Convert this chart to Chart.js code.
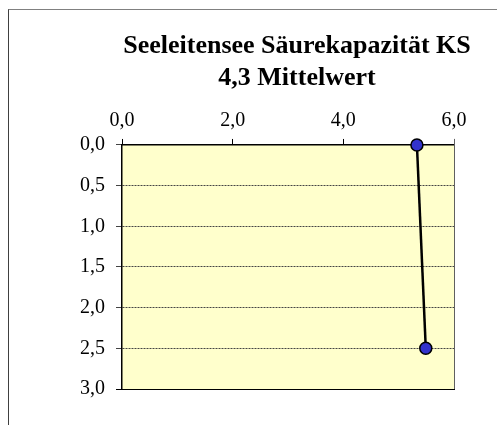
<!DOCTYPE html>
<html>
<head>
<meta charset="utf-8">
<script src="https://cdn.jsdelivr.net/npm/chart.js@4/dist/chart.umd.min.js"></script>
<style>
  html,body{margin:0;padding:0;background:#fff;}
  #wrap{position:relative;width:497px;height:425px;}
  #frame{position:absolute;left:8px;top:9px;right:0;bottom:0;border-top:1px solid #808080;border-left:1px solid #404040;}
  canvas{position:absolute;left:0;top:0;}
</style>
</head>
<body>
<div id="wrap">
  <div id="frame"></div>
  <canvas id="c" width="497" height="425"></canvas>
</div>
<script>
const TITLE_LINES = ["Seeleitensee Säurekapazität KS", "4,3 Mittelwert"];
const KS_VALUES = [5.33, 5.49];
const DEPTHS = [0.0, 2.5];
const X_MIN = 0, X_MAX = 6, X_STEP = 2;
const Y_MIN = 0, Y_MAX = 3, Y_STEP = 0.5;

const fmt = v => Number(v).toFixed(1).replace(".", ",");
const SERIF = "'Liberation Serif', 'Times New Roman', serif";

const plotFrame = {
  id: "plotFrame",
  beforeDraw(chart) {
    const {ctx, chartArea: a} = chart;
    ctx.save();
    ctx.fillStyle = "#FFFFCC";
    ctx.fillRect(a.left, a.top, a.right - a.left, a.bottom - a.top);
    ctx.restore();
  },
  beforeDatasetsDraw(chart) {
    const {ctx, chartArea: a} = chart;
    ctx.save();
    ctx.lineWidth = 1;
    ctx.strokeStyle = "#606060";
    ctx.beginPath();
    ctx.moveTo(a.right + 0.5, a.top - 6);
    ctx.lineTo(a.right + 0.5, a.bottom);
    ctx.stroke();
    ctx.strokeStyle = "#000";
    ctx.beginPath();
    ctx.moveTo(a.left - 6, a.bottom + 0.5);
    ctx.lineTo(a.right + 1, a.bottom + 0.5);
    ctx.stroke();
    ctx.restore();
  }
};

new Chart(document.getElementById("c"), {
  type: "scatter",
  data: {
    datasets: [{
      data: KS_VALUES.map((v, i) => ({x: v, y: DEPTHS[i]})),
      showLine: true,
      borderColor: "#000",
      borderWidth: 2.5,
      pointRadius: 6,
      pointHoverRadius: 6,
      pointBackgroundColor: "#3333CC",
      pointBorderColor: "#000",
      pointBorderWidth: 1.5,
      clip: false
    }]
  },
  options: {
    responsive: false,
    animation: false,
    // negative right padding shifts the centred title to the right, like the original
    layout: {padding: {left: 0, right: -97, top: 0, bottom: 36}},
    plugins: {
      legend: {display: false},
      tooltip: {enabled: false},
      title: {
        display: true,
        text: TITLE_LINES,
        color: "#000",
        font: {family: SERIF, size: 26, weight: "bold", lineHeight: 1.23},
        padding: {top: 30, bottom: 0}
      }
    },
    scales: {
      x: {
        type: "linear",
        position: "top",
        min: X_MIN, max: X_MAX,
        afterFit: s => { s.height = 51; },
        ticks: {stepSize: X_STEP, callback: fmt, color: "#000", padding: 6,
                font: {family: SERIF, size: 20}},
        grid: {drawOnChartArea: false, drawTicks: true, tickLength: 6, color: "#000"},
        border: {display: true, color: "#000", width: 1.5}
      },
      y: {
        type: "linear",
        reverse: true,
        min: Y_MIN, max: Y_MAX,
        afterFit: s => { s.width = 122; },
        ticks: {stepSize: Y_STEP, callback: fmt, color: "#000", padding: 11,
                font: {family: SERIF, size: 20}},
        grid: {drawOnChartArea: true, drawTicks: true, tickLength: 6, color: "#444", lineWidth: 1},
        border: {display: true, color: "#000", width: 1.5, dash: [2, 1]}
      },
      yRight: {
        type: "linear",
        position: "right",
        min: Y_MIN, max: Y_MAX,
        afterFit: s => { s.width = 140; },
        ticks: {display: false},
        grid: {display: false},
        border: {display: false}
      }
    }
  },
  plugins: [plotFrame]
});
</script>
</body>
</html>
